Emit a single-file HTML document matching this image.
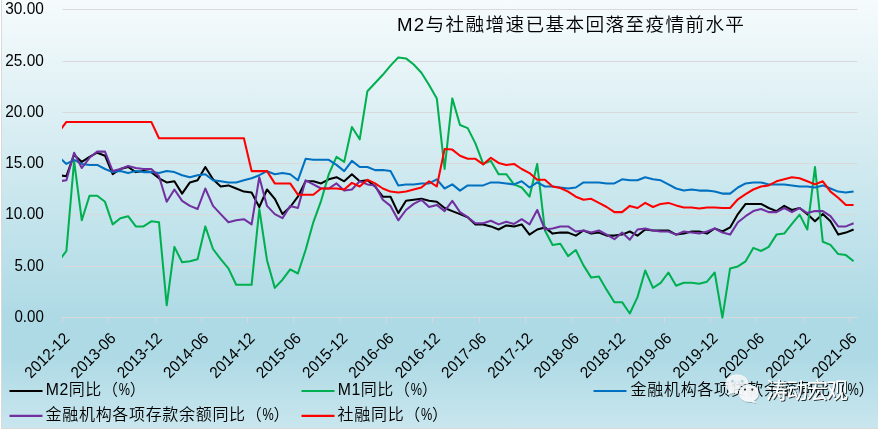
<!DOCTYPE html>
<html lang="zh-CN">
<head>
<meta charset="utf-8">
<title>M2与社融增速已基本回落至疫情前水平</title>
<style>
html,body{margin:0;padding:0;background:#fff;}
body{width:878px;height:429px;overflow:hidden;}
svg{display:block;}
text{font-family:"Liberation Sans","Noto Sans CJK SC",sans-serif;fill:#000;}
.ax{font-size:15.7px;}
.xl{font-size:16px;}
.lg{font-size:16px;}
.cj{letter-spacing:0.68px;font-weight:350;}
.la{font-size:15.8px;letter-spacing:0.45px;}
.ttl{font-size:18.67px;letter-spacing:1.33px;font-weight:350;}
</style>
</head>
<body>
<svg width="878" height="429" viewBox="0 0 878 429">
<defs>
<linearGradient id="bg" x1="0" y1="0" x2="0" y2="1">
<stop offset="0" stop-color="#f6fbfc"/>
<stop offset="0.74" stop-color="#aedae5"/>
<stop offset="0.83" stop-color="#aedae5"/>
<stop offset="1" stop-color="#c9e6ee"/>
</linearGradient>
<clipPath id="pc"><rect x="62" y="0" width="796" height="330"/></clipPath>
<mask id="bm" maskUnits="userSpaceOnUse" x="700" y="360" width="80" height="60"><rect x="700" y="360" width="80" height="60" fill="#fff"/><ellipse cx="748.8" cy="393.2" rx="11.0" ry="9.8" fill="#000"/></mask>
<filter id="sh2" x="-10%" y="-20%" width="130%" height="150%">
<feDropShadow dx="1" dy="1" stdDeviation="0.45" flood-color="#000" flood-opacity="0.8"/>
</filter>
<filter id="sh" x="-10%" y="-20%" width="130%" height="150%">
<feDropShadow dx="0.6" dy="0.8" stdDeviation="0.5" flood-color="#000" flood-opacity="0.35"/>
</filter>
</defs>
<rect x="0" y="0" width="878" height="429" fill="url(#bg)"/>
<rect x="0" y="0" width="1" height="429" fill="#ffffff"/>
<rect x="1" y="0" width="1" height="429" fill="#d9d9d9"/>
<rect x="1" y="428" width="877" height="1" fill="#d9d9d9"/>

<g stroke="#d9d9d9" stroke-width="1" fill="none">
<line x1="62.5" y1="266.5" x2="857.5" y2="266.5"/>
<line x1="62.5" y1="214.5" x2="857.5" y2="214.5"/>
<line x1="62.5" y1="163.5" x2="857.5" y2="163.5"/>
<line x1="62.5" y1="112.5" x2="857.5" y2="112.5"/>
<line x1="62.5" y1="61.5" x2="857.5" y2="61.5"/>
<line x1="62.5" y1="9.5" x2="857.5" y2="9.5"/>
<line x1="62.0" y1="317.5" x2="857.5" y2="317.5"/>
<line x1="62.5" y1="317.5" x2="62.5" y2="322.5"/>
<line x1="108.5" y1="317.5" x2="108.5" y2="322.5"/>
<line x1="155.5" y1="317.5" x2="155.5" y2="322.5"/>
<line x1="201.5" y1="317.5" x2="201.5" y2="322.5"/>
<line x1="247.5" y1="317.5" x2="247.5" y2="322.5"/>
<line x1="293.5" y1="317.5" x2="293.5" y2="322.5"/>
<line x1="340.5" y1="317.5" x2="340.5" y2="322.5"/>
<line x1="386.5" y1="317.5" x2="386.5" y2="322.5"/>
<line x1="432.5" y1="317.5" x2="432.5" y2="322.5"/>
<line x1="479.5" y1="317.5" x2="479.5" y2="322.5"/>
<line x1="525.5" y1="317.5" x2="525.5" y2="322.5"/>
<line x1="571.5" y1="317.5" x2="571.5" y2="322.5"/>
<line x1="617.5" y1="317.5" x2="617.5" y2="322.5"/>
<line x1="664.5" y1="317.5" x2="664.5" y2="322.5"/>
<line x1="710.5" y1="317.5" x2="710.5" y2="322.5"/>
<line x1="756.5" y1="317.5" x2="756.5" y2="322.5"/>
<line x1="803.5" y1="317.5" x2="803.5" y2="322.5"/>
<line x1="849.5" y1="317.5" x2="849.5" y2="322.5"/>
</g>
<g class="ax" text-anchor="end">
<text x="43.8" y="322.3" textLength="29.4" lengthAdjust="spacingAndGlyphs">0.00</text>
<text x="43.8" y="271.3" textLength="29.4" lengthAdjust="spacingAndGlyphs">5.00</text>
<text x="43.8" y="219.3" textLength="38.6" lengthAdjust="spacingAndGlyphs">10.00</text>
<text x="43.8" y="168.3" textLength="38.6" lengthAdjust="spacingAndGlyphs">15.00</text>
<text x="43.8" y="117.3" textLength="38.6" lengthAdjust="spacingAndGlyphs">20.00</text>
<text x="43.8" y="66.3" textLength="38.6" lengthAdjust="spacingAndGlyphs">25.00</text>
<text x="43.8" y="14.3" textLength="38.6" lengthAdjust="spacingAndGlyphs">30.00</text>
</g>
<g class="xl" text-anchor="end">
<text transform="translate(70.5,339.3) rotate(-45)" x="0" y="0" textLength="56" lengthAdjust="spacingAndGlyphs">2012-12</text>
<text transform="translate(116.8,339.3) rotate(-45)" x="0" y="0" textLength="56" lengthAdjust="spacingAndGlyphs">2013-06</text>
<text transform="translate(163.1,339.3) rotate(-45)" x="0" y="0" textLength="56" lengthAdjust="spacingAndGlyphs">2013-12</text>
<text transform="translate(209.4,339.3) rotate(-45)" x="0" y="0" textLength="56" lengthAdjust="spacingAndGlyphs">2014-06</text>
<text transform="translate(255.7,339.3) rotate(-45)" x="0" y="0" textLength="56" lengthAdjust="spacingAndGlyphs">2014-12</text>
<text transform="translate(302.1,339.3) rotate(-45)" x="0" y="0" textLength="56" lengthAdjust="spacingAndGlyphs">2015-06</text>
<text transform="translate(348.4,339.3) rotate(-45)" x="0" y="0" textLength="56" lengthAdjust="spacingAndGlyphs">2015-12</text>
<text transform="translate(394.7,339.3) rotate(-45)" x="0" y="0" textLength="56" lengthAdjust="spacingAndGlyphs">2016-06</text>
<text transform="translate(441.0,339.3) rotate(-45)" x="0" y="0" textLength="56" lengthAdjust="spacingAndGlyphs">2016-12</text>
<text transform="translate(487.3,339.3) rotate(-45)" x="0" y="0" textLength="56" lengthAdjust="spacingAndGlyphs">2017-06</text>
<text transform="translate(533.6,339.3) rotate(-45)" x="0" y="0" textLength="56" lengthAdjust="spacingAndGlyphs">2017-12</text>
<text transform="translate(579.9,339.3) rotate(-45)" x="0" y="0" textLength="56" lengthAdjust="spacingAndGlyphs">2018-06</text>
<text transform="translate(626.2,339.3) rotate(-45)" x="0" y="0" textLength="56" lengthAdjust="spacingAndGlyphs">2018-12</text>
<text transform="translate(672.5,339.3) rotate(-45)" x="0" y="0" textLength="56" lengthAdjust="spacingAndGlyphs">2019-06</text>
<text transform="translate(718.8,339.3) rotate(-45)" x="0" y="0" textLength="56" lengthAdjust="spacingAndGlyphs">2019-12</text>
<text transform="translate(765.2,339.3) rotate(-45)" x="0" y="0" textLength="56" lengthAdjust="spacingAndGlyphs">2020-06</text>
<text transform="translate(811.5,339.3) rotate(-45)" x="0" y="0" textLength="56" lengthAdjust="spacingAndGlyphs">2020-12</text>
<text transform="translate(857.8,339.3) rotate(-45)" x="0" y="0" textLength="56" lengthAdjust="spacingAndGlyphs">2021-06</text>
</g>
<g fill="none" stroke-width="2.05" stroke-linejoin="round" stroke-linecap="butt" clip-path="url(#pc)">
<path stroke="#000000" d="M58.6,175.2 L66.4,176.2 L74.1,154.7 L81.8,161.9 L89.5,156.8 L97.2,152.7 L105.0,155.7 L112.7,174.2 L120.4,169.0 L128.1,167.0 L135.8,172.1 L143.5,171.1 L151.3,172.1 L159.0,178.3 L166.7,182.4 L174.4,181.3 L182.1,193.6 L189.9,182.4 L197.6,180.3 L205.3,167.0 L213.0,179.3 L220.7,186.5 L228.4,185.4 L236.2,188.5 L243.9,191.6 L251.6,192.6 L259.3,207.0 L267.0,189.5 L274.8,198.8 L282.5,214.1 L290.2,207.0 L297.9,196.7 L305.6,181.3 L313.3,181.3 L321.1,183.4 L328.8,179.3 L336.5,177.2 L344.2,181.3 L351.9,174.2 L359.7,181.3 L367.4,180.3 L375.1,186.5 L382.8,196.7 L390.5,196.7 L398.3,213.1 L406.0,200.8 L413.7,199.8 L421.4,198.8 L429.1,200.8 L436.8,201.8 L444.6,208.0 L452.3,211.1 L460.0,214.1 L467.7,217.2 L475.4,224.4 L483.2,224.4 L490.9,226.4 L498.6,229.5 L506.3,225.4 L514.0,226.4 L521.7,224.4 L529.5,234.6 L537.2,229.5 L544.9,227.4 L552.6,233.6 L560.3,232.6 L568.1,232.6 L575.8,235.6 L583.5,230.5 L591.2,233.6 L598.9,232.6 L606.7,235.6 L614.4,235.6 L622.1,234.6 L629.8,231.5 L637.5,235.6 L645.2,229.5 L653.0,230.5 L660.7,230.5 L668.4,230.5 L676.1,234.6 L683.8,233.6 L691.6,231.5 L699.3,231.5 L707.0,233.6 L714.7,228.5 L722.4,231.5 L730.1,227.4 L737.9,214.1 L745.6,203.9 L753.3,203.9 L761.0,203.9 L768.7,208.0 L776.5,211.1 L784.2,205.9 L791.9,210.0 L799.6,208.0 L807.3,214.1 L815.0,221.3 L822.8,214.1 L830.5,221.3 L838.2,234.6 L845.9,232.6 L853.6,229.5"/>
<path stroke="#00b050" d="M58.6,261.3 L66.4,251.0 L74.1,160.9 L81.8,220.3 L89.5,195.7 L97.2,195.7 L105.0,201.8 L112.7,224.4 L120.4,218.2 L128.1,216.2 L135.8,226.4 L143.5,226.4 L151.3,221.3 L159.0,222.3 L166.7,305.3 L174.4,246.9 L182.1,262.3 L189.9,261.3 L197.6,259.2 L205.3,226.4 L213.0,249.0 L220.7,259.2 L228.4,268.4 L236.2,284.8 L243.9,284.8 L251.6,284.8 L259.3,209.0 L267.0,260.2 L274.8,287.9 L282.5,279.7 L290.2,269.4 L297.9,273.5 L305.6,250.0 L313.3,222.3 L321.1,200.8 L328.8,174.2 L336.5,156.8 L344.2,161.9 L351.9,127.0 L359.7,139.3 L367.4,91.2 L375.1,83.0 L382.8,74.8 L390.5,65.6 L398.3,57.4 L406.0,58.4 L413.7,64.5 L421.4,72.7 L429.1,85.0 L436.8,98.4 L444.6,169.0 L452.3,98.4 L460.0,125.0 L467.7,128.1 L475.4,143.4 L483.2,163.9 L490.9,160.9 L498.6,174.2 L506.3,174.2 L514.0,184.4 L521.7,187.5 L529.5,196.7 L537.2,163.9 L544.9,230.5 L552.6,244.9 L560.3,243.8 L568.1,256.1 L575.8,250.0 L583.5,265.4 L591.2,277.6 L598.9,276.6 L606.7,289.9 L614.4,302.2 L622.1,302.2 L629.8,313.5 L637.5,297.1 L645.2,270.5 L653.0,287.9 L660.7,282.8 L668.4,272.5 L676.1,285.8 L683.8,282.8 L691.6,282.8 L699.3,283.8 L707.0,281.7 L714.7,272.5 L722.4,317.6 L730.1,268.4 L737.9,266.4 L745.6,261.3 L753.3,247.9 L761.0,251.0 L768.7,246.9 L776.5,234.6 L784.2,233.6 L791.9,223.9 L799.6,214.6 L807.3,229.5 L815.0,167.0 L822.8,241.8 L830.5,244.9 L838.2,254.1 L845.9,255.1 L853.6,261.3"/>
<path stroke="#0070c0" d="M58.6,156.8 L66.4,163.9 L74.1,159.8 L81.8,163.9 L89.5,164.9 L97.2,164.9 L105.0,169.0 L112.7,172.1 L120.4,171.1 L128.1,173.1 L135.8,171.1 L143.5,172.1 L151.3,172.1 L159.0,173.1 L166.7,171.1 L174.4,172.1 L182.1,175.2 L189.9,177.2 L197.6,175.2 L205.3,174.2 L213.0,180.3 L220.7,181.3 L228.4,182.4 L236.2,182.4 L243.9,180.3 L251.6,178.3 L259.3,175.2 L267.0,171.1 L274.8,174.2 L282.5,173.1 L290.2,174.2 L297.9,180.3 L305.6,158.8 L313.3,159.8 L321.1,159.8 L328.8,159.8 L336.5,164.9 L344.2,171.1 L351.9,160.9 L359.7,167.0 L367.4,167.0 L375.1,170.1 L382.8,170.1 L390.5,171.1 L398.3,185.4 L406.0,184.4 L413.7,184.4 L421.4,183.4 L429.1,183.4 L436.8,179.3 L444.6,188.5 L452.3,184.4 L460.0,190.6 L467.7,185.4 L475.4,185.4 L483.2,185.4 L490.9,182.4 L498.6,182.4 L506.3,183.4 L514.0,184.4 L521.7,181.3 L529.5,187.5 L537.2,182.4 L544.9,186.5 L552.6,186.5 L560.3,187.5 L568.1,188.5 L575.8,187.5 L583.5,182.4 L591.2,182.4 L598.9,182.4 L606.7,183.4 L614.4,183.4 L622.1,179.3 L629.8,180.3 L637.5,180.3 L645.2,177.2 L653.0,179.3 L660.7,180.3 L668.4,184.4 L676.1,188.5 L683.8,190.6 L691.6,189.5 L699.3,190.6 L707.0,190.6 L714.7,191.6 L722.4,193.6 L730.1,193.6 L737.9,187.5 L745.6,183.4 L753.3,182.4 L761.0,182.4 L768.7,184.4 L776.5,184.4 L784.2,184.4 L791.9,185.4 L799.6,186.5 L807.3,186.5 L815.0,187.5 L822.8,185.4 L830.5,188.5 L838.2,191.6 L845.9,192.6 L853.6,191.6"/>
<path stroke="#7030a0" d="M58.6,181.3 L66.4,180.3 L74.1,152.7 L81.8,168.0 L89.5,157.8 L97.2,151.6 L105.0,151.6 L112.7,171.1 L120.4,169.0 L128.1,166.0 L135.8,168.0 L143.5,169.0 L151.3,169.0 L159.0,176.2 L166.7,201.8 L174.4,189.5 L182.1,200.8 L189.9,205.9 L197.6,209.0 L205.3,188.5 L213.0,205.9 L220.7,214.1 L228.4,222.3 L236.2,220.3 L243.9,219.2 L251.6,224.4 L259.3,177.2 L267.0,205.9 L274.8,214.1 L282.5,218.2 L290.2,205.9 L297.9,208.0 L305.6,180.3 L313.3,184.4 L321.1,188.5 L328.8,188.5 L336.5,183.4 L344.2,190.6 L351.9,189.5 L359.7,181.3 L367.4,184.4 L375.1,185.4 L382.8,199.8 L390.5,205.9 L398.3,220.3 L406.0,210.0 L413.7,203.9 L421.4,199.8 L429.1,207.0 L436.8,204.9 L444.6,211.1 L452.3,200.8 L460.0,212.1 L467.7,217.2 L475.4,223.3 L483.2,223.3 L490.9,220.8 L498.6,224.4 L506.3,221.8 L514.0,223.9 L521.7,219.2 L529.5,224.4 L537.2,210.0 L544.9,229.5 L552.6,228.5 L560.3,226.4 L568.1,226.4 L575.8,231.5 L583.5,230.5 L591.2,232.6 L598.9,230.5 L606.7,234.6 L614.4,239.2 L622.1,232.6 L629.8,239.7 L637.5,229.5 L645.2,228.5 L653.0,230.5 L660.7,231.5 L668.4,231.5 L676.1,234.6 L683.8,231.5 L691.6,232.6 L699.3,233.6 L707.0,231.5 L714.7,228.5 L722.4,232.6 L730.1,234.6 L737.9,222.3 L745.6,216.2 L753.3,211.1 L761.0,209.0 L768.7,212.1 L776.5,212.1 L784.2,208.0 L791.9,212.1 L799.6,208.0 L807.3,213.1 L815.0,211.1 L822.8,211.1 L830.5,216.2 L838.2,226.4 L845.9,226.4 L853.6,223.3"/>
<path stroke="#ff0000" d="M58.6,132.2 L66.4,121.9 L74.1,121.9 L81.8,121.9 L89.5,121.9 L97.2,121.9 L105.0,121.9 L112.7,121.9 L120.4,121.9 L128.1,121.9 L135.8,121.9 L143.5,121.9 L151.3,121.9 L159.0,138.3 L166.7,138.3 L174.4,138.3 L182.1,138.3 L189.9,138.3 L197.6,138.3 L205.3,138.3 L213.0,138.3 L220.7,138.3 L228.4,138.3 L236.2,138.3 L243.9,138.3 L251.6,171.1 L259.3,171.1 L267.0,171.1 L274.8,183.4 L282.5,183.4 L290.2,183.4 L297.9,194.7 L305.6,194.7 L313.3,194.7 L321.1,188.5 L328.8,188.5 L336.5,188.5 L344.2,189.5 L351.9,182.9 L359.7,186.5 L367.4,179.8 L375.1,183.4 L382.8,188.5 L390.5,191.6 L398.3,192.6 L406.0,191.6 L413.7,189.5 L421.4,187.5 L429.1,181.3 L436.8,186.5 L444.6,149.1 L452.3,149.6 L460.0,155.7 L467.7,158.8 L475.4,158.8 L483.2,164.4 L490.9,157.8 L498.6,162.9 L506.3,164.9 L514.0,163.9 L521.7,169.0 L529.5,173.1 L537.2,179.8 L544.9,179.8 L552.6,186.5 L560.3,188.0 L568.1,191.6 L575.8,196.7 L583.5,199.8 L591.2,198.8 L598.9,202.9 L606.7,207.0 L614.4,212.1 L622.1,212.1 L629.8,205.9 L637.5,208.0 L645.2,202.9 L653.0,207.0 L660.7,203.9 L668.4,202.9 L676.1,205.4 L683.8,207.5 L691.6,207.5 L699.3,208.5 L707.0,207.5 L714.7,207.5 L722.4,208.0 L730.1,208.0 L737.9,199.3 L745.6,194.1 L753.3,189.5 L761.0,186.5 L768.7,185.4 L776.5,181.3 L784.2,179.3 L791.9,177.2 L799.6,178.3 L807.3,181.3 L815.0,184.4 L822.8,181.3 L830.5,191.6 L838.2,197.7 L845.9,204.9 L853.6,204.9"/>
</g>
<text class="ttl" x="397" y="30.9">M2与社融增速已基本回落至疫情前水平</text>
<g fill="none" stroke-width="2.2" stroke-linecap="butt">
<line x1="9.5" y1="391.0" x2="42.5" y2="391.0" stroke="#000000"/>
<line x1="301.5" y1="391.0" x2="334.5" y2="391.0" stroke="#00b050"/>
<line x1="593.5" y1="391.0" x2="626.5" y2="391.0" stroke="#0070c0"/>
<line x1="9.5" y1="415.8" x2="42.5" y2="415.8" stroke="#7030a0"/>
<line x1="301.5" y1="415.8" x2="334.5" y2="415.8" stroke="#ff0000"/>
</g>
<text class="lg" x="45.8" y="395.1"><tspan class="la">M2</tspan><tspan class="cj">同比（</tspan><tspan class="la" textLength="11.6" lengthAdjust="spacingAndGlyphs">%</tspan><tspan class="cj" dx="-0.6">）</tspan></text>
<text class="lg" x="337.8" y="395.1"><tspan class="la">M1</tspan><tspan class="cj">同比（</tspan><tspan class="la" textLength="11.6" lengthAdjust="spacingAndGlyphs">%</tspan><tspan class="cj" dx="-0.6">）</tspan></text>
<text class="lg" x="630.6" y="395.1"><tspan class="cj">金融机构各项贷款余额同比（</tspan><tspan class="la" textLength="11.6" lengthAdjust="spacingAndGlyphs">%</tspan><tspan class="cj" dx="-0.6">）</tspan></text>
<text class="lg" x="45.6" y="419.9"><tspan class="cj">金融机构各项存款余额同比（</tspan><tspan class="la" textLength="11.6" lengthAdjust="spacingAndGlyphs">%</tspan><tspan class="cj" dx="-0.6">）</tspan></text>
<text class="lg" x="337.6" y="419.9"><tspan class="cj">社融同比（</tspan><tspan class="la" textLength="11.6" lengthAdjust="spacingAndGlyphs">%</tspan><tspan class="cj" dx="-0.6">）</tspan></text>
<g filter="url(#sh)">
<g mask="url(#bm)">
<ellipse cx="737" cy="384" rx="11.6" ry="9.8" fill="#fafcfd" fill-opacity="0.84"/>
<path d="M729.6,390.6 l-2.6,4.6 l6.2,-2.6 z" fill="#fafcfd" fill-opacity="0.84"/>
</g>
<ellipse cx="748.8" cy="393.2" rx="9.9" ry="8.7" fill="#fcfdfe" fill-opacity="0.9"/>
<path d="M753.2,400.2 l3.6,3.0 l-7,-1.6 z" fill="#fcfdfe" fill-opacity="0.9"/>
</g>
<circle cx="732.4" cy="381.2" r="1.35" fill="#a9d3e0"/>
<circle cx="742.1" cy="381.2" r="1.35" fill="#a9d3e0"/>
<circle cx="745.0" cy="389.6" r="1.05" fill="#2a2a2a"/>
<circle cx="752.3" cy="389.6" r="1.05" fill="#2a2a2a"/>
<text x="766" y="398" font-size="21.5" style="fill:#fff;letter-spacing:-1.3px;font-weight:400" filter="url(#sh2)">涛动宏观</text>

</svg>
</body>
</html>
